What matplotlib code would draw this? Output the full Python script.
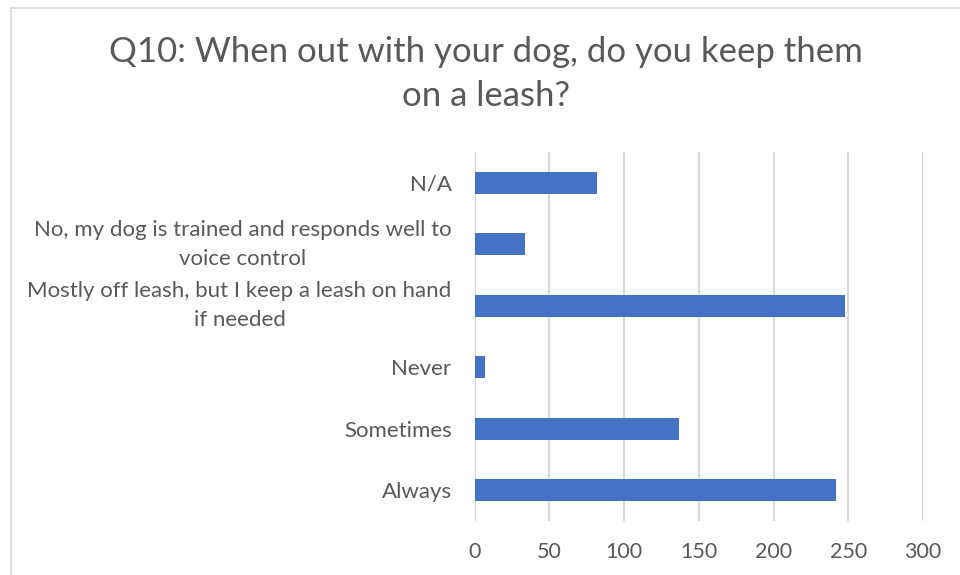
"""Q10 leash survey: horizontal bar chart in Excel style."""
import matplotlib
matplotlib.use("Agg")
import matplotlib.pyplot as plt
from matplotlib.lines import Line2D

categories = [
    "Always",
    "Sometimes",
    "Never",
    "Mostly off leash, but I keep a leash on hand\nif needed",
    "No, my dog is trained and responds well to\nvoice control",
    "N/A",
]
counts = [242, 137, 7, 248, 34, 82]
x_ticks = [0, 50, 100, 150, 200, 250, 300]
title = "Q10: When out with your dog, do you keep them\non a leash?"

BAR = "#4472C4"
TEXT = "#595959"
GRID = "#D9D9D9"
FONT = "Lato"

W, H = 960, 575
fig = plt.figure(figsize=(W / 100, H / 100), dpi=100, facecolor="white")

# plot area in pixels
left, right, top, bottom = 474.5, 923, 152, 521
ax = fig.add_axes([left / W, 1 - bottom / H, (right - left) / W, (bottom - top) / H])

ypos = list(range(len(categories)))
ax.barh(ypos, counts, height=0.35, color=BAR, zorder=3)
ax.set_xlim(0, 300)
ax.set_ylim(-0.5, len(categories) - 0.5)
ax.set_xticks(x_ticks)
ax.set_xticklabels([str(t) for t in x_ticks])
ax.set_yticks(ypos)
ax.set_yticklabels(categories, multialignment="center", linespacing=1.55)
ax.grid(axis="x", color=GRID, linewidth=1.5, zorder=0)
for s in ax.spines.values():
    s.set_visible(False)
ax.tick_params(axis="both", length=0, colors=TEXT)
ax.tick_params(axis="y", pad=16.5, labelsize=16)
ax.tick_params(axis="x", pad=15, labelsize=15.5)
for lab in ax.get_xticklabels() + ax.get_yticklabels():
    lab.set_fontfamily(FONT)
# two-line labels: center the whole block on the bar
for lab in ax.get_yticklabels():
    if "\n" in lab.get_text():
        lab.set_verticalalignment("center")

fig.text(0.506, 1 - 74 / H, title, ha="center", va="center", fontsize=25,
         color=TEXT, family=FONT, linespacing=1.48)

# chart area border (left and top edges visible)
fig.add_artist(Line2D([11 / W, 11 / W], [0, 1 - 8 / H], color=GRID, lw=1.2))
fig.add_artist(Line2D([11 / W, 1], [1 - 8 / H, 1 - 8 / H], color=GRID, lw=1.2))

fig.savefig("out.png", dpi=100, facecolor="white")
